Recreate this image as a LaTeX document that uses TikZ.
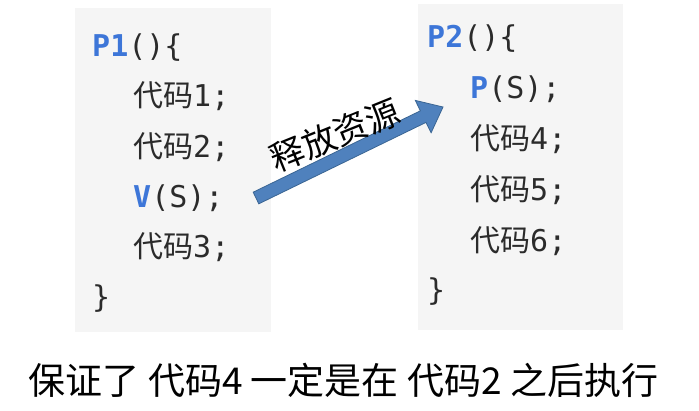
\documentclass[tikz,border=0pt]{standalone}
\usepackage{fontspec}
\newfontfamily\cjk{Noto Sans CJK SC}
\newfontfamily\mono{DejaVu Sans Mono}
\definecolor{panelbg}{HTML}{F5F5F5}
\definecolor{codegray}{HTML}{2B2B2B}
\definecolor{codeblue}{HTML}{3D76D8}
\definecolor{arrowfill}{HTML}{4F81BD}
\definecolor{arrowline}{HTML}{3A6593}
\tikzset{
  panel/.style={fill=panelbg, draw=none},
  code/.style={anchor=base west, inner sep=0pt, text=codegray, font=\fontsize{30}{30}\selectfont\mono},
}
\newcommand{\cj}[1]{{\cjk #1}}
\newcommand{\kwd}[1]{\textcolor{codeblue}{\bfseries #1}}
\begin{document}
\begin{tikzpicture}[x=1pt,y=-1pt]
\useasboundingbox (0,0) rectangle (699,410);
\fill[white] (0,0) rectangle (699,410);
% panels
\path[panel] (75,8) rectangle (271,332);
\path[panel] (418,4) rectangle (623,330);
% left code
\node[code] (l0) at (92,56) {\kwd{P1}()\{};
\node[code] (l1) at (133,106) {\cj{代码}1;};
\node[code] (l2) at (133,157) {\cj{代码}2;};
\node[code] (l3) at (133,207) {\kwd{V}(S);};
\node[code] (l4) at (133,257) {\cj{代码}3;};
\node[code] (l5) at (92,307) {\}};
% right code
\node[code] (r0) at (427,47) {\kwd{P2}()\{};
\node[code] (r1) at (470,98) {\kwd{P}(S);};
\node[code] (r2) at (470,149) {\cj{代码}4;};
\node[code] (r3) at (470,200) {\cj{代码}5;};
\node[code] (r4) at (470,251) {\cj{代码}6;};
\node[code] (r5) at (427,300) {\}};
% block arrow
\coordinate (a1) at (258.8,203.8);
\coordinate (a2) at (253.2,192.2);
\coordinate (a3) at (420.4,110.8);
\coordinate (a4) at (415.3,100.4);
\coordinate (tip) at (443.0,107.0);
\coordinate (a6) at (431.1,132.8);
\coordinate (a7) at (426.0,122.4);
\filldraw[fill=arrowfill, draw=arrowline, line width=0.8pt, line join=miter]
  (a1) -- (a2) -- (a3) -- (a4) -- (tip) -- (a6) -- (a7) -- cycle;
\node[inner sep=0pt, rotate=22, font=\fontsize{34}{34}\selectfont\cjk] (lbl) at (335,135) {释放资源};
% caption
\node[inner sep=0pt, font=\fontsize{37}{37}\selectfont\cjk] (cap) at (343.5,380) {保证了 代码4 一定是在 代码2 之后执行};
\end{tikzpicture}
\end{document}
